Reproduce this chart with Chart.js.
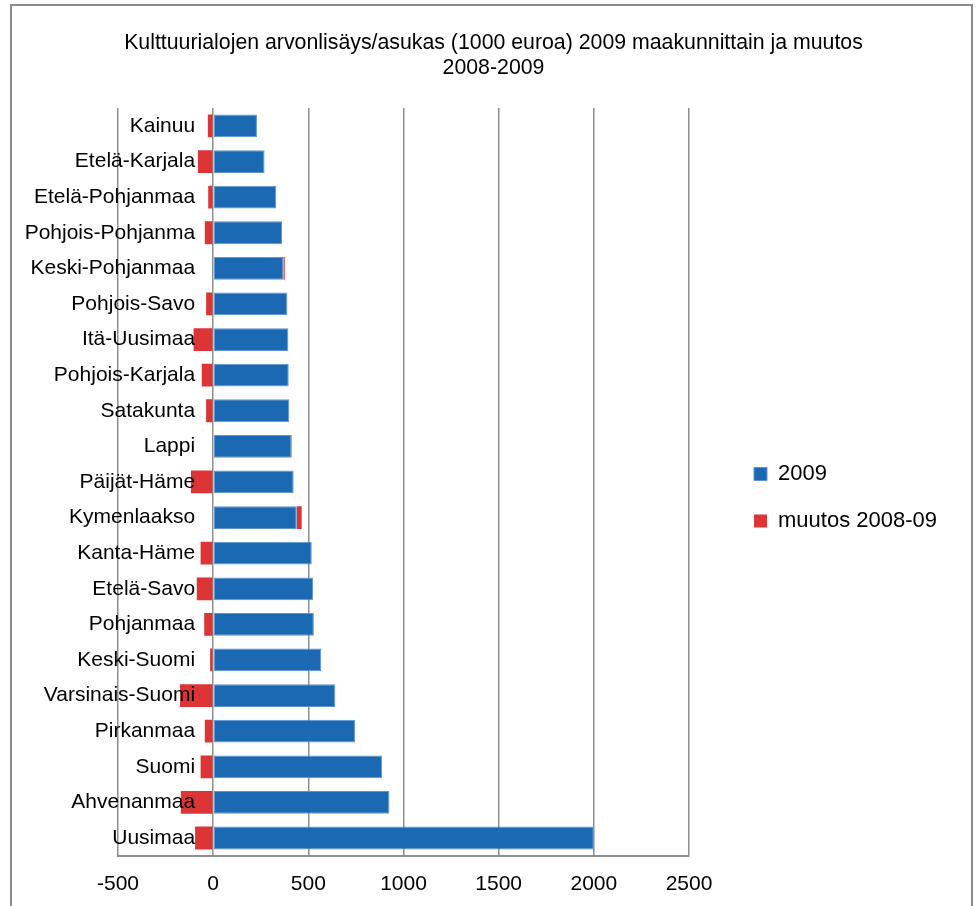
<!DOCTYPE html>
<html>
<head>
<meta charset="utf-8">
<script src="https://cdn.jsdelivr.net/npm/chart.js@4"></script>
<style>
  body { margin: 0; background: #fff; overflow: hidden; }
  #frame { position: absolute; left: 10px; top: 4px; width: 959px; height: 940px; border: 2px solid #8c8c8c; }
  #wrap { position: absolute; left: 0; top: 0; width: 977px; height: 913px; }
</style>
</head>
<body>
<div id="frame"></div>
<div id="wrap"><canvas id="chart"></canvas></div>
<script>
const regions = ['Kainuu', 'Etelä-Karjala', 'Etelä-Pohjanmaa', 'Pohjois-Pohjanma', 'Keski-Pohjanmaa',
  'Pohjois-Savo', 'Itä-Uusimaa', 'Pohjois-Karjala', 'Satakunta', 'Lappi', 'Päijät-Häme',
  'Kymenlaakso', 'Kanta-Häme', 'Etelä-Savo', 'Pohjanmaa', 'Keski-Suomi', 'Varsinais-Suomi',
  'Pirkanmaa', 'Suomi', 'Ahvenanmaa', 'Uusimaa'];
const value2009 = [230, 270, 332, 362, 370, 390, 395, 397, 400, 412, 423, 439, 518, 525, 529, 567, 642, 746, 888, 926, 2000];
const change0809 = [-28, -80, -26, -44, 6, -37, -103, -60, -37, 2, -117, 26, -66, -86, -47, -16, -174, -44, -66, -170, -95];
const titleLines = ['Kulttuurialojen arvonlisäys/asukas (1000 euroa) 2009 maakunnittain ja muutos', '2008-2009'];

const font = 'Liberation Sans, Arial, sans-serif';
const gridGray = '#8e8e8e';

new Chart(document.getElementById('chart'), {
  type: 'bar',
  data: {
    labels: regions,
    datasets: [
      {
        label: '2009',
        data: value2009,
        backgroundColor: '#1b69b3',
        borderColor: '#5e95cd',
        borderWidth: 1,
        borderSkipped: false
      },
      {
        label: 'muutos 2008-09',
        data: change0809,
        backgroundColor: '#dd3535',
        borderWidth: 0
      }
    ]
  },
  options: {
    indexAxis: 'y',
    responsive: true,
    maintainAspectRatio: false,
    animation: false,
    events: [],
    barPercentage: 0.64,
    categoryPercentage: 1,
    layout: { padding: { left: 40, right: 30, top: 10, bottom: 0 } },
    scales: {
      x: {
        stacked: true,
        min: -500,
        max: 2500,
        ticks: {
          stepSize: 500,
          color: '#000',
          font: { family: font, size: 21 },
          padding: 16,
          callback: (v) => String(v)
        },
        grid: { color: gridGray, lineWidth: 1.5, drawTicks: false },
        border: { color: gridGray, width: 2 }
      },
      // category labels end a little left of the zero line, drawn over the bars
      y: {
        stacked: true,
        position: { x: -95 },
        ticks: { color: '#000', font: { family: font, size: 21 }, z: 1 },
        grid: { display: false, drawTicks: false },
        border: { display: false }
      },
      // spacers: left margin of the plot and gap before the legend
      yLeft: {
        position: 'left',
        afterFit: (s) => { s.width = 78; },
        ticks: { display: false },
        grid: { display: false, drawTicks: false },
        border: { display: false }
      },
      yRight: {
        position: 'right',
        afterFit: (s) => { s.width = 40; },
        ticks: { display: false },
        grid: { display: false, drawTicks: false },
        border: { display: false }
      }
    },
    plugins: {
      title: {
        display: true,
        text: titleLines,
        color: '#000',
        font: { family: font, size: 21.3, weight: 'normal', lineHeight: 1.2 },
        padding: { top: 20, bottom: 27 }
      },
      legend: {
        position: 'right',
        maxWidth: 320,
        title: { display: true, text: ' ', font: { size: 10 }, padding: { top: 60, bottom: 0 } },
        labels: {
          color: '#000',
          font: { family: font, size: 22 },
          boxWidth: 13,
          boxHeight: 13,
          padding: 25
        }
      },
      tooltip: { enabled: false }
    }
  }
});
</script>
</body>
</html>
